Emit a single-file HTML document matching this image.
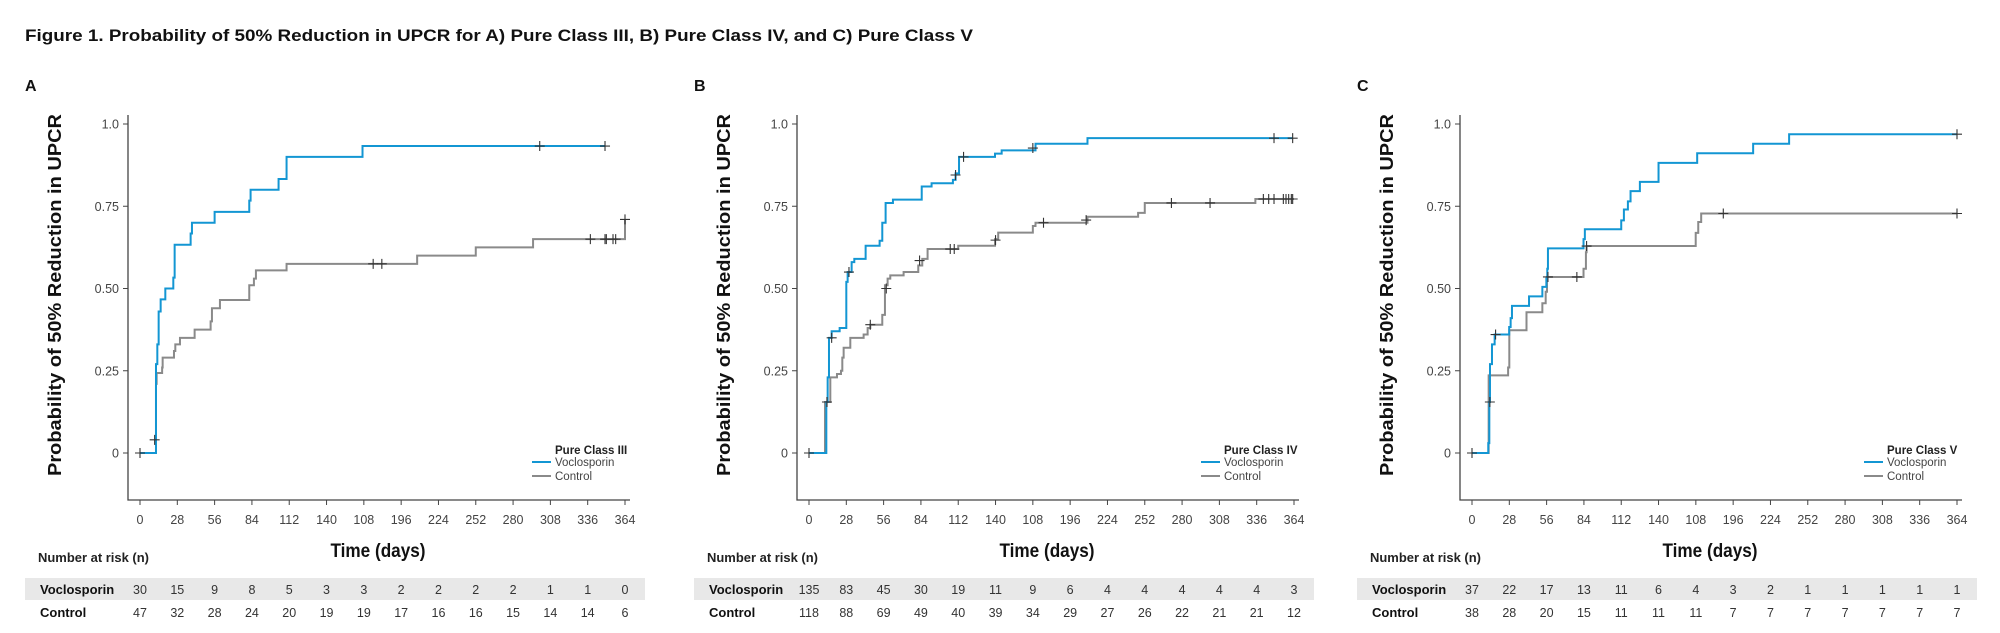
<!DOCTYPE html>
<html><head><meta charset="utf-8"><style>
html,body{margin:0;padding:0;background:#fff;}
svg{display:block;font-family:"Liberation Sans",Arial,sans-serif;}
</style></head><body>
<svg id="fig" width="2000" height="633" viewBox="0 0 2000 633">
<text x="25" y="41" font-size="17" font-weight="bold" fill="#111" textLength="948" lengthAdjust="spacingAndGlyphs">Figure 1. Probability of 50% Reduction in UPCR for A) Pure Class III, B) Pure Class IV, and C) Pure Class V</text>
</svg>
<script>
const NS="http://www.w3.org/2000/svg";
const svg=document.getElementById('fig');
const xTicks=[0,28,56,84,112,140,168,196,224,252,280,308,336,364];
const xTickLabels=["0","28","56","84","112","140","108","196","224","252","280","308","336","364"];
const yTicks=[0,0.25,0.5,0.75,1.0];
const yTickLabels=["0","0.25","0.50","0.75","1.0"];

// Panel A
const aVocT=[0,12,13,14,15.5,19,25,26,38,39,56,82,83,104,110,167];
const aVocP=[0,0.27,0.33,0.43,0.467,0.50,0.533,0.633,0.667,0.70,0.733,0.767,0.80,0.833,0.90,0.933];
const aVocCensT=[300,349];
const aVocCensP=[0.933,0.933];
const aCtlT=[0,12,12.5,16.6,17,25.5,26.5,30,41,53,54,60,82,85.5,87,110,208,252,295,364];
const aCtlP=[0,0.21,0.243,0.26,0.29,0.31,0.33,0.35,0.375,0.40,0.44,0.465,0.51,0.53,0.555,0.575,0.60,0.625,0.65,0.71];
const aCtlCensT=[0,11,175,181.5,338,349,350,355,357,364];
const aCtlCensP=[0,0.04,0.575,0.575,0.65,0.65,0.65,0.65,0.65,0.71];
const aRiskVoc=[30,15,9,8,5,3,3,2,2,2,2,1,1,0];
const aRiskCtl=[47,32,28,24,20,19,19,17,16,16,15,14,14,6];

// Panel B
const bVocT=[0,13,14,15,17,23,28,29,32,34,42.5,53,55,57.5,63,84.6,92,108,110,112.6,139.6,144.6,170,209];
const bVocP=[0,0.155,0.23,0.35,0.37,0.38,0.52,0.55,0.58,0.59,0.63,0.645,0.70,0.76,0.77,0.81,0.82,0.83,0.85,0.90,0.91,0.92,0.94,0.957];
const bVocCensT=[13.5,17,30,110,116,168,349,363];
const bVocCensP=[0.155,0.35,0.55,0.845,0.90,0.927,0.957,0.957];
const bCtlT=[0,12,16,21,24,25,26,31,41,44,46,55,57,59,61,71,82,85,89,112,139.6,142,168,170,209,247,252,335];
const bCtlP=[0,0.155,0.23,0.24,0.25,0.29,0.32,0.35,0.36,0.38,0.39,0.42,0.51,0.53,0.54,0.55,0.57,0.59,0.62,0.63,0.65,0.67,0.69,0.70,0.718,0.73,0.76,0.772];
const bCtlCensT=[0,13.5,46,58,83,106,109,140,176,208,272,301,341,345,349,356,358,360,362,363];
const bCtlCensP=[0,0.155,0.39,0.50,0.585,0.62,0.62,0.647,0.70,0.708,0.76,0.76,0.772,0.772,0.772,0.772,0.772,0.772,0.772,0.772];
const bRiskVoc=[135,83,45,30,19,11,9,6,4,4,4,4,4,3];
const bRiskCtl=[118,88,69,49,40,39,34,29,27,26,22,21,21,12];

// Panel C
const cVocT=[0,12.2,13,13.5,15,17,27.9,29,30,42.8,52.8,55.8,56.5,57,83.7,84.7,112,114,117,119,126,140,169,211,238];
const cVocP=[0,0.03,0.155,0.27,0.33,0.36,0.383,0.41,0.447,0.476,0.505,0.53,0.56,0.622,0.65,0.68,0.707,0.74,0.765,0.796,0.824,0.882,0.911,0.94,0.969];
const cVocCensT=[0,13.4,17.7,364];
const cVocCensP=[0,0.155,0.36,0.969];
const cCtlT=[0,12.5,27.1,28,40.9,52.8,55.3,56.3,83.7,85.5,86,167.9,169.8,172];
const cCtlP=[0,0.236,0.26,0.373,0.428,0.455,0.49,0.535,0.56,0.61,0.629,0.669,0.702,0.728];
const cCtlCensT=[57,78.7,86,188.6,364];
const cCtlCensP=[0.535,0.535,0.629,0.728,0.728];
const cRiskVoc=[37,22,17,13,11,6,4,3,2,1,1,1,1,1];
const cRiskCtl=[38,28,20,15,11,11,11,7,7,7,7,7,7,7];

const BLUE="#1396d3", GRAY="#8a8a8a";

function el(tag,attrs,parent){const e=document.createElementNS(NS,tag);for(const k in attrs)e.setAttribute(k,attrs[k]);(parent||svg).appendChild(e);return e;}

function panel(letter,ax,cls,vT,vP,vCT,vCP,vEnd,cT,cP,cCT,cCP,cEnd,rV,rC){
  const g=el('g',{});
  
  
  const x0=ax+12, x1=ax+497;
  const xs=d=>x0+(d/364)*(x1-x0);
  const ys=p=>453-p*329;
  const lab=el('text',{x:ax-103,y:91,'font-size':16,'font-weight':'bold',fill:'#111'},g);lab.textContent=letter;
  
  
  const axes=el('path',{d:`M${ax} 115V500H${ax+502}`,stroke:'#444','stroke-width':1.3,fill:'none'},g);
  
  
  yTicks.forEach((v,i)=>{
    el('line',{x1:ax-5,x2:ax,y1:ys(v),y2:ys(v),stroke:'#444'},g);
    const t=el('text',{x:ax-9,y:ys(v)+4.5,'font-size':12.5,fill:'#444','text-anchor':'end'},g);t.textContent=yTickLabels[i];
    
    
  });
  xTicks.forEach((v,i)=>{
    el('line',{x1:xs(v),x2:xs(v),y1:500,y2:505,stroke:'#444'},g);
    const t=el('text',{x:xs(v),y:524,'font-size':12.5,fill:'#444','text-anchor':'middle'},g);t.textContent=xTickLabels[i];
    
    
  });
  const yl=el('text',{transform:`translate(${ax-67},295) rotate(-90)`,'font-size':18.5,'font-weight':'bold',fill:'#111','text-anchor':'middle',textLength:362,lengthAdjust:'spacingAndGlyphs'},g);
  yl.textContent='Probability of 50% Reduction in UPCR';
  
  
  const xl=el('text',{x:ax+250,y:557,'font-size':19,'font-weight':'bold',fill:'#111','text-anchor':'middle',textLength:95,lengthAdjust:'spacingAndGlyphs'},g);
  xl.textContent='Time (days)';
  
  
  function step(T,P,end,color,name){
    let d=`M${xs(T[0])} ${ys(P[0])}`;
    for(let i=1;i<T.length;i++){d+=`H${xs(T[i])}V${ys(P[i])}`;}
    d+=`H${xs(end)}`;
    const p=el('path',{d:d,stroke:color,'stroke-width':2,fill:'none'},g);
    
    
  }
  function cens(T,P,name){
    T.forEach((t,i)=>{
      const c=el('path',{d:`M${xs(t)-5} ${ys(P[i])}h10M${xs(t)} ${ys(P[i])-5}v10`,stroke:'#333','stroke-width':1.1,fill:'none'},g);
      
      
    });
  }
  step(cT,cP,cEnd,GRAY,'control-curve');
  step(vT,vP,vEnd,BLUE,'voclosporin-curve');
  cens(cCT,cCP,'control-censor-mark');
  cens(vCT,vCP,'voclosporin-censor-mark');
  const lt=el('text',{x:ax+427,y:454,'font-size':11.5,'font-weight':'bold',fill:'#222'},g);lt.textContent=cls;
  
  
  [['Voclosporin',BLUE,462],['Control',GRAY,476]].forEach(e=>{
    el('line',{x1:ax+404,x2:ax+423,y1:e[2],y2:e[2],stroke:e[1],'stroke-width':2},g);
    const t=el('text',{x:ax+427,y:e[2]+4,'font-size':11.5,fill:'#444'},g);t.textContent=e[0];
    
    
  });
  const nr=el('text',{x:ax-90,y:562,'font-size':13,'font-weight':'bold',fill:'#222',textLength:111,lengthAdjust:'spacingAndGlyphs'},g);
  nr.textContent='Number at risk (n)';
  
  
  const band=el('rect',{x:ax-103,y:578,width:620,height:22,fill:'#e8e8e8'},g);
  
  
  [['Voclosporin',rV,594],['Control',rC,617]].forEach(r=>{
    const t=el('text',{x:ax-88,y:r[2],'font-size':13,'font-weight':'bold',fill:'#111'},g);t.textContent=r[0];
    
    
    r[1].forEach((v,i)=>{
      const n=el('text',{x:xs(xTicks[i]),y:r[2],'font-size':12.5,fill:'#333','text-anchor':'middle'},g);n.textContent=v;
      
      
    });
  });
}
panel('A',128,'Pure Class III',aVocT,aVocP,aVocCensT,aVocCensP,349,aCtlT,aCtlP,aCtlCensT,aCtlCensP,364,aRiskVoc,aRiskCtl);
panel('B',797,'Pure Class IV',bVocT,bVocP,bVocCensT,bVocCensP,363,bCtlT,bCtlP,bCtlCensT,bCtlCensP,364,bRiskVoc,bRiskCtl);
panel('C',1460,'Pure Class V',cVocT,cVocP,cVocCensT,cVocCensP,364,cCtlT,cCtlP,cCtlCensT,cCtlCensP,364,cRiskVoc,cRiskCtl);
</script>
</body></html>
